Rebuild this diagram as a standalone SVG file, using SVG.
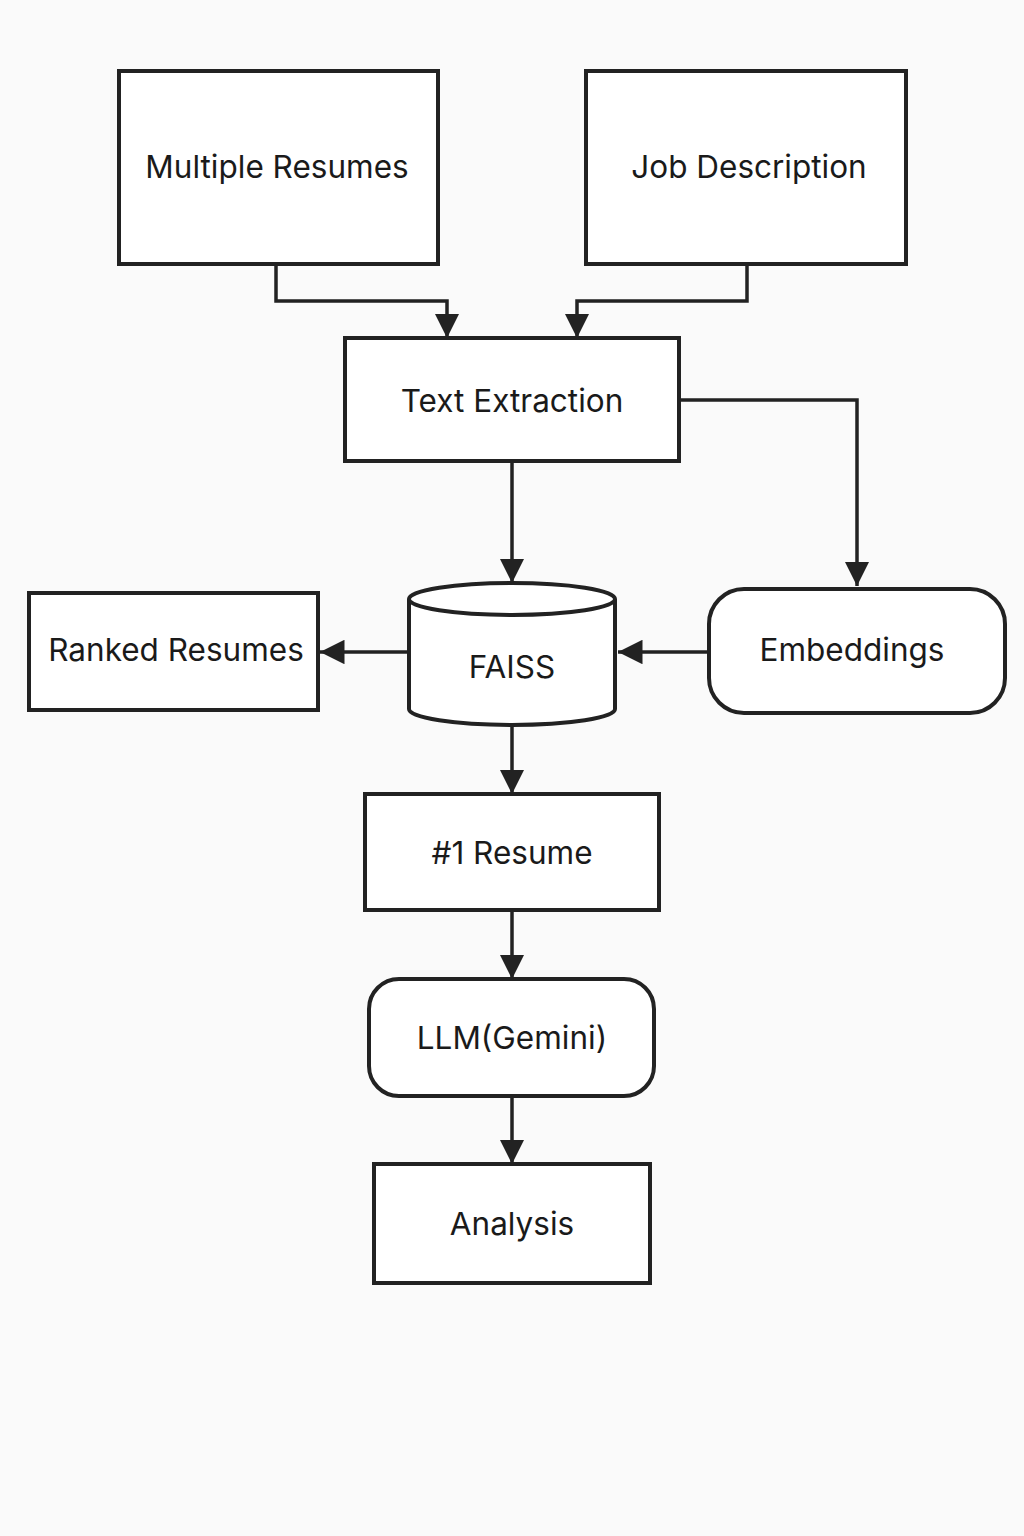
<svg xmlns="http://www.w3.org/2000/svg" width="1024" height="1536" viewBox="0 0 1024 1536">
<defs>
<style>
.box{fill:#ffffff;stroke:#222;stroke-width:4}
.ln{fill:none;stroke:#222;stroke-width:3.5}
.t{font-family:Inter,"Noto Sans","Liberation Sans",sans-serif;font-size:31.5px;fill:#1a1a1a;text-anchor:middle;dominant-baseline:central}
</style>
<marker id="ah" viewBox="0 0 10 10" refX="10" refY="5" markerWidth="7" markerHeight="7" markerUnits="strokeWidth" orient="auto">
<path d="M0,0 L10,5 L0,10 Z" fill="#222"/>
</marker>
</defs>
<rect width="1024" height="1536" fill="#fafafa"/>
<g id="connectors">
<path class="ln" d="M276,264 V301 H447 V338" marker-end="url(#ah)"/>
<path class="ln" d="M747,264 V301 H577 V338" marker-end="url(#ah)"/>
<path class="ln" d="M679,400 H857 V586" marker-end="url(#ah)"/>
<path class="ln" d="M512,461 V583" marker-end="url(#ah)"/>
<path class="ln" d="M709,652 H618" marker-end="url(#ah)"/>
<path class="ln" d="M409,652 H320" marker-end="url(#ah)"/>
<path class="ln" d="M512,725 V794" marker-end="url(#ah)"/>
<path class="ln" d="M512,910 V979" marker-end="url(#ah)"/>
<path class="ln" d="M512,1096 V1164" marker-end="url(#ah)"/>
</g>
<g id="multiple-resumes">
<rect class="box" x="119" y="71" width="319" height="193"/>
<text class="t" x="277" y="166">Multiple Resumes</text>
</g>
<g id="job-description">
<rect class="box" x="586" y="71" width="320" height="193"/>
<text class="t" x="749" y="166">Job Description</text>
</g>
<g id="text-extraction">
<rect class="box" x="345" y="338" width="334" height="123"/>
<text class="t" x="512" y="400">Text Extraction</text>
</g>
<g id="faiss">
<path class="box" d="M409,599 V709 A103,16 0 0 0 615,709 V599"/>
<ellipse class="box" cx="512" cy="599" rx="103" ry="16"/>
<text class="t" x="512" y="666">FAISS</text>
</g>
<g id="embeddings">
<rect class="box" x="709" y="589" width="296" height="124" rx="35"/>
<text class="t" x="852" y="649">Embeddings</text>
</g>
<g id="ranked-resumes">
<rect class="box" x="29" y="593" width="289" height="117"/>
<text class="t" x="176" y="649">Ranked Resumes</text>
</g>
<g id="top-resume">
<rect class="box" x="365" y="794" width="294" height="116"/>
<text class="t" x="512" y="852">#1 Resume</text>
</g>
<g id="llm">
<rect class="box" x="369" y="979" width="285" height="117" rx="30"/>
<text class="t" x="512" y="1037">LLM(Gemini)</text>
</g>
<g id="analysis">
<rect class="box" x="374" y="1164" width="276" height="119"/>
<text class="t" x="512" y="1223">Analysis</text>
</g>
</svg>
